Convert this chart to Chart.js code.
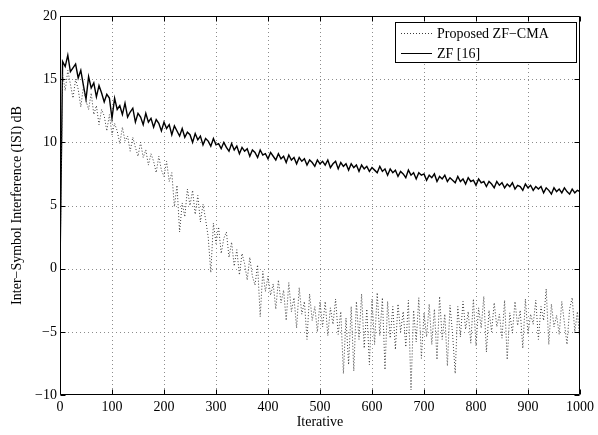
<!DOCTYPE html>
<html>
<head>
<meta charset="utf-8">
<script src="https://cdn.jsdelivr.net/npm/chart.js@4.4.1/dist/chart.umd.min.js"></script>
<style>
  body { margin: 0; background: #fff; }
</style>
</head>
<body>
<canvas id="isi" width="598" height="435"></canvas>
<script>
// ISI vs iteration, every 5 iterations

var step = 5;
var seriesLabels = ["Proposed ZF\u2212CMA", "ZF [16]"];
var xTicks = [0, 100, 200, 300, 400, 500, 600, 700, 800, 900, 1000];
var yTicks = [-10, -5, 0, 5, 10, 15, 20];

var zfCma = [0.0,
  15.4, 14.1, 15.7, 14.6, 13.5, 15.0, 14.2, 12.8, 14.4, 13.3, 12.6, 13.9, 12.2, 12.9, 11.4, 12.6, 12.1, 10.9, 12.2, 10.6,
  11.5, 10.9, 9.9, 11.2, 10.1, 10.5, 9.3, 10.4, 9.6, 8.9, 10.0, 8.8, 9.4, 8.2, 9.1, 8.5, 7.6, 8.9, 7.8, 7.3,
  8.5, 6.9, 7.6, 4.9, 6.6, 2.9, 5.2, 4.1, 6.3, 5.0, 6.2, 4.3, 5.8, 3.7, 5.1, 3.9, 2.5, -0.3, 3.6, 2.0,
  3.3, 1.2, 2.4, 2.9, 0.9, 2.1, 0.2, 1.5, -0.5, 1.2, 0.4, -0.9, 0.9, -0.6, -1.3, 0.3, -3.8, -0.2, -1.8, -0.6,
  -2.1, -1.2, -3.2, -0.9, -2.7, -1.7, -4.1, -1.1, -3.4, -2.3, -4.7, -1.5, -3.6, -2.6, -5.6, -2.0, -4.1, -3.0, -5.0, -2.6,
  -4.6, -2.6, -5.3, -3.1, -4.4, -2.4, -5.2, -3.4, -8.3, -3.9, -7.6, -3.0, -8.1, -2.6, -5.6, -2.0, -6.3, -3.2, -7.6, -2.4,
  -6.0, -1.9, -5.3, -2.3, -8.0, -2.6, -5.5, -3.0, -6.4, -2.8, -5.0, -3.4, -6.2, -2.5, -9.6, -3.3, -5.8, -2.3, -7.1, -3.5,
  -5.4, -2.8, -6.0, -3.2, -7.2, -2.2, -5.6, -3.6, -7.7, -2.9, -5.2, -8.3, -3.0, -5.4, -2.6, -4.8, -3.4, -5.9, -2.4, -6.1,
  -3.1, -4.7, -2.2, -6.6, -3.3, -5.0, -2.7, -4.6, -3.6, -5.5, -2.5, -7.2, -3.5, -5.1, -2.6, -4.5, -3.3, -6.3, -2.4, -5.2,
  -3.6, -4.4, -2.5, -5.6, -3.0, -4.1, -1.6, -6.0, -2.8, -4.6, -3.7, -5.2, -2.6, -4.3, -6.0, -3.2, -2.3, -5.0, -3.4, -5.8];

var zf = [0.0,
  16.4, 16.0, 16.9, 15.6, 15.9, 16.2, 15.1, 15.7, 14.5, 13.4, 15.2, 14.3, 14.7, 13.6, 14.5, 13.9, 13.2, 13.8, 13.5, 11.9,
  13.5, 12.6, 12.9, 12.2, 13.1, 12.0, 12.4, 12.7, 11.6, 12.3, 12.0, 11.4, 12.3, 11.6, 11.9, 11.2, 11.8, 11.5, 10.9, 11.6,
  11.1, 11.4, 10.6, 11.3, 10.9, 10.5, 11.1, 10.4, 10.8, 10.6, 10.0, 10.7, 10.2, 10.5, 9.8, 10.3, 10.1, 9.7, 10.3, 9.8,
  9.9, 9.5, 10.0, 9.6, 9.3, 9.9, 9.4, 9.7, 9.1, 9.6, 9.3, 9.5, 8.9, 9.4, 9.2, 8.8, 9.4, 9.0, 9.1, 8.7,
  9.2, 8.9, 8.6, 9.1, 8.7, 8.9, 8.4, 9.0, 8.6, 8.8, 8.3, 8.8, 8.5, 8.7, 8.2, 8.6, 8.4, 8.1, 8.6, 8.3,
  8.5, 8.2, 8.6, 8.0, 8.3, 8.5, 7.9, 8.4, 8.1, 8.3, 7.8, 8.3, 8.0, 8.2, 7.7, 8.2, 7.9, 8.1, 7.7, 8.0,
  7.8, 7.6, 8.1, 7.7, 7.9, 7.4, 7.9, 7.6, 7.8, 7.3, 7.7, 7.5, 7.2, 7.8, 7.4, 7.6, 7.1, 7.6, 7.4, 7.5,
  7.0, 7.4, 7.2, 7.5, 6.9, 7.3, 7.1, 7.4, 6.9, 7.2, 7.0, 6.8, 7.3, 6.9, 7.1, 6.7, 7.2, 6.9, 7.0, 6.6,
  7.1, 6.8, 6.9, 6.5, 6.9, 6.7, 6.4, 6.9, 6.6, 6.8, 6.4, 6.7, 6.5, 6.8, 6.3, 6.6, 6.5, 6.2, 6.7, 6.4,
  6.6, 6.2, 6.5, 6.3, 6.5, 6.0, 6.4, 6.2, 5.9, 6.4, 6.1, 6.3, 6.0, 6.4, 6.1, 5.9, 6.3, 6.0, 6.2, 6.1];

function toPoints(vals) {
  return vals.map(function(v, i) { return {x: i * step, y: v}; });
}

var serif = '"Liberation Serif", "Times New Roman", serif';

// grid, box, inward ticks and legend, matlab style
var matlabBox = {
  id: 'matlabBox',
  beforeDatasetsDraw: function(chart) {
    var ctx = chart.ctx, a = chart.chartArea, x = chart.scales.x, y = chart.scales.y;
    ctx.save();
    ctx.strokeStyle = '#8c8c8c';
    ctx.lineWidth = 1;
    ctx.setLineDash([1, 3]);
    ctx.beginPath();
    xTicks.slice(1, -1).forEach(function(t) {
      var px = Math.round(x.getPixelForValue(t)) + 0.5;
      ctx.moveTo(px, a.top); ctx.lineTo(px, a.bottom);
    });
    yTicks.slice(1, -1).forEach(function(t) {
      var py = Math.round(y.getPixelForValue(t)) + 0.5;
      ctx.moveTo(a.left, py); ctx.lineTo(a.right, py);
    });
    ctx.stroke();
    ctx.restore();
  },
  afterDatasetsDraw: function(chart) {
    var ctx = chart.ctx, a = chart.chartArea, x = chart.scales.x, y = chart.scales.y;
    var L = a.left + 0.5, R = a.right - 0.5, T = a.top + 0.5, B = a.bottom - 0.5;
    ctx.save();
    ctx.strokeStyle = '#000';
    ctx.lineWidth = 1;
    ctx.setLineDash([]);
    ctx.beginPath();
    ctx.rect(L, T, R - L, B - T);
    xTicks.forEach(function(t) {
      var px = Math.round(x.getPixelForValue(t)) + 0.5;
      ctx.moveTo(px, B); ctx.lineTo(px, B - 5);
      ctx.moveTo(px, T); ctx.lineTo(px, T + 5);
    });
    yTicks.forEach(function(t) {
      var py = Math.round(y.getPixelForValue(t)) + 0.5;
      ctx.moveTo(L, py); ctx.lineTo(L + 5, py);
      ctx.moveTo(R, py); ctx.lineTo(R - 5, py);
    });
    ctx.stroke();

    // legend
    var bx = 395.5, by = 22.5, bw = 181, bh = 40;
    ctx.fillStyle = '#fff';
    ctx.fillRect(bx, by, bw, bh);
    ctx.strokeRect(bx, by, bw, bh);
    var ds = chart.data.datasets;
    [33.5, 53.5].forEach(function(ly, i) {
      ctx.strokeStyle = ds[i].borderColor;
      ctx.lineWidth = i ? 1 : ds[i].borderWidth;
      ctx.setLineDash(ds[i].borderDash || []);
      ctx.beginPath();
      ctx.moveTo(401, ly); ctx.lineTo(432, ly);
      ctx.stroke();
      ctx.fillStyle = '#000';
      ctx.font = '14px ' + serif;
      ctx.textBaseline = 'middle';
      ctx.fillText(ds[i].label, 437, ly + 1);
    });
    ctx.restore();
  }
};

new Chart(document.getElementById('isi'), {
  type: 'line',
  data: {
    datasets: [
      {
        label: seriesLabels[0],
        data: toPoints(zfCma),
        borderColor: '#3a3a3a',
        borderWidth: 1,
        borderDash: [1, 2],
        pointRadius: 0,
        tension: 0
      },
      {
        label: seriesLabels[1],
        data: toPoints(zf),
        borderColor: '#000',
        borderWidth: 1.4,
        pointRadius: 0,
        tension: 0
      }
    ]
  },
  options: {
    responsive: false,
    animation: false,
    devicePixelRatio: 1,
    layout: { padding: { left: 0, top: 16, right: 17, bottom: 0 } },
    plugins: {
      legend: { display: false },
      tooltip: { enabled: false }
    },
    scales: {
      x: {
        type: 'linear',
        min: 0, max: 1000,
        grid: { display: false, drawTicks: false },
        border: { display: false },
        afterBuildTicks: function(s) { s.ticks = xTicks.map(function(v) { return {value: v}; }); },
        afterFit: function(s) { s.height = 40; },
        ticks: {
          autoSkip: false, maxRotation: 0, padding: 4,
          color: '#000', font: { family: serif, size: 14 },
          callback: function(v) { return String(v); }
        },
        title: {
          display: true, text: 'Iterative', color: '#000',
          font: { family: serif, size: 14 },
          padding: { top: 4, bottom: 4 }
        }
      },
      y: {
        min: -10, max: 20,
        grid: { display: false, drawTicks: false },
        border: { display: false },
        afterBuildTicks: function(s) { s.ticks = yTicks.map(function(v) { return {value: v}; }); },
        afterFit: function(s) { s.width = 60; },
        ticks: {
          autoSkip: false, padding: 3,
          color: '#000', font: { family: serif, size: 14 },
          callback: function(v) { return String(v).replace('-', '\u2212'); }
        },
        title: {
          display: true, text: 'Inter\u2212Symbol Interference (ISI) dB', color: '#000',
          font: { family: serif, size: 14 },
          padding: { top: 9, bottom: 9 }
        }
      }
    }
  },
  plugins: [matlabBox]
});
</script>
</body>
</html>
